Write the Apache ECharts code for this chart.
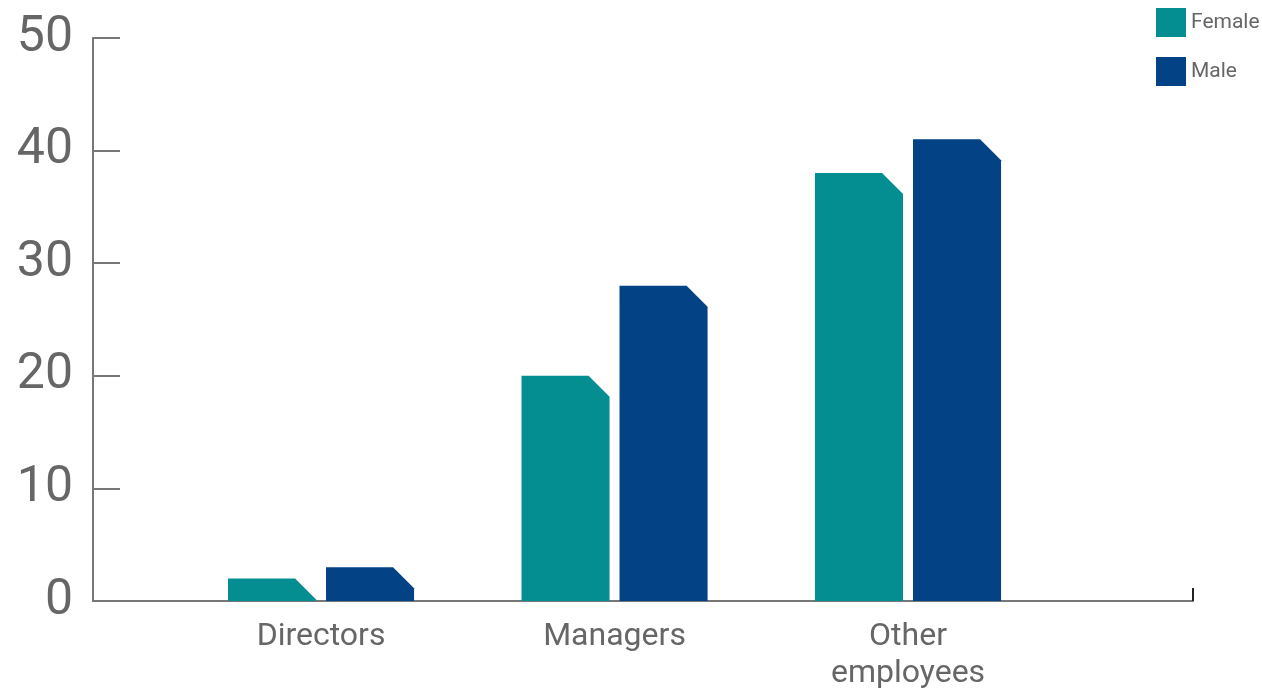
<!DOCTYPE html>
<html>
<head>
<meta charset="utf-8">
<script src="https://cdn.jsdelivr.net/npm/echarts@6/dist/echarts.min.js"></script>
<style>
  html, body { margin: 0; padding: 0; background: #fff; }
  #chart { width: 1262px; height: 688px; }
</style>
</head>
<body>
<div id="chart"></div>
<script>
// Workforce by gender and role
const categories = ['Directors', 'Managers', 'Other\nemployees'];
const femaleValues = [2, 20, 38];
const maleValues = [3, 28, 41];
const yTicks = [0, 10, 20, 30, 40, 50];

const FEMALE_COLOR = '#058e91';
const MALE_COLOR = '#034385';
const TEXT_COLOR = '#666666';
const AXIS_COLOR = '#777777';

// x is a numeric position per category (0, 1, 2) with extra room on both sides
const X_MIN = -0.777;
const X_MAX = 2.971;

// Bar geometry as fractions of the category spacing
const BAR_WIDTH = 0.30;
const BAR_OFFSET = 0.167;
const CUT = 21; // size of the clipped top-right corner, px

function chamferBar(offset, color) {
  return function (params, api) {
    const x = api.value(0) + offset;
    const v = api.value(1);
    const band = api.size([1, 0])[0];
    const w = band * BAR_WIDTH;
    const base = api.coord([x, 0]);
    const top = api.coord([x, v]);
    const left = base[0] - w / 2;
    const right = base[0] + w / 2;
    const yb = base[1];
    const yt = top[1];
    const h = yb - yt;
    let pts;
    if (h > CUT) {
      pts = [[left, yb], [left, yt], [right - CUT, yt], [right, yt + CUT], [right, yb]];
    } else {
      pts = [[left, yb], [left, yt], [right - CUT, yt], [right - CUT + h, yb]];
    }
    return {
      type: 'polygon',
      shape: { points: pts },
      style: { fill: color }
    };
  };
}

const chart = echarts.init(document.getElementById('chart'), null, { renderer: 'canvas' });

chart.setOption({
  animation: false,
  backgroundColor: '#ffffff',
  textStyle: { fontFamily: 'Roboto' },
  grid: { left: 93, right: 69, top: 38, bottom: 87, containLabel: false, outerBoundsMode: 'none' },
  legend: {
    orient: 'vertical',
    left: 1156,
    top: 8,
    padding: 0,
    itemWidth: 30,
    itemHeight: 29,
    itemGap: 20,
    icon: 'rect',
    textStyle: { color: TEXT_COLOR, fontSize: 21, fontFamily: 'Roboto' },
    data: [
      { name: 'Female', itemStyle: { color: FEMALE_COLOR } },
      { name: 'Male', itemStyle: { color: MALE_COLOR } }
    ]
  },
  xAxis: {
    type: 'value',
    min: X_MIN,
    max: X_MAX,
    splitLine: { show: false },
    axisLine: { show: true, onZero: false, lineStyle: { color: AXIS_COLOR, width: 2 } },
    axisTick: {
      show: true,
      inside: true,
      length: 13,
      customValues: [X_MAX],
      lineStyle: { color: '#222222', width: 2 }
    },
    axisLabel: {
      customValues: [0, 1, 2],
      formatter: function (v) { return categories[Math.round(v)]; },
      color: TEXT_COLOR,
      fontSize: 32,
      lineHeight: 37,
      margin: 17,
      fontFamily: 'Roboto'
    }
  },
  yAxis: {
    type: 'value',
    min: yTicks[0],
    max: yTicks[yTicks.length - 1],
    interval: 10,
    splitLine: { show: false },
    axisLine: { show: true, onZero: false, lineStyle: { color: AXIS_COLOR, width: 2 } },
    axisTick: { show: true, inside: true, length: 27, lineStyle: { color: AXIS_COLOR, width: 2 } },
    axisLabel: {
      color: TEXT_COLOR,
      fontSize: 50,
      margin: 20,
      padding: [14, 0, 0, 0],
      fontFamily: 'Roboto'
    }
  },
  series: [
    {
      name: 'Female',
      type: 'custom',
      itemStyle: { color: FEMALE_COLOR },
      renderItem: chamferBar(-BAR_OFFSET, FEMALE_COLOR),
      encode: { x: 0, y: 1 },
      data: femaleValues.map(function (v, i) { return [i, v]; })
    },
    {
      name: 'Male',
      type: 'custom',
      itemStyle: { color: MALE_COLOR },
      renderItem: chamferBar(BAR_OFFSET, MALE_COLOR),
      encode: { x: 0, y: 1 },
      data: maleValues.map(function (v, i) { return [i, v]; })
    }
  ]
});
</script>
</body>
</html>
